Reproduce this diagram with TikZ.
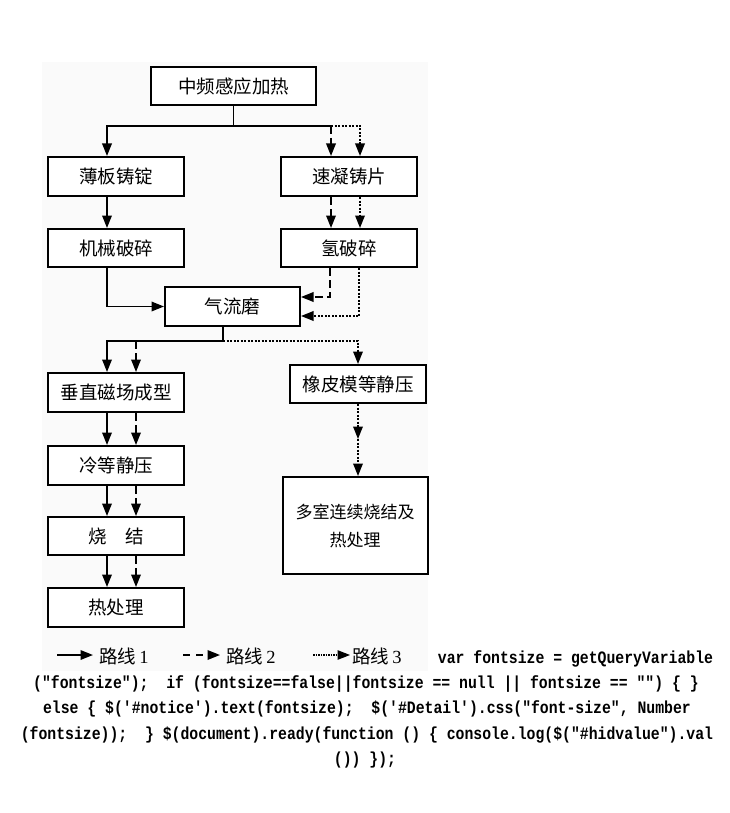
\documentclass[tikz,border=0pt]{standalone}
\usepackage{fontspec}
\setmainfont{Liberation Serif}
\newfontfamily\cjkf{Noto Sans CJK SC}
\newfontfamily\codefnt{Liberation Mono}[FakeStretch=0.85]
\usetikzlibrary{arrows.meta}
\begin{document}
\begin{tikzpicture}[x=1pt,y=-1pt,
  box/.style={draw,line width=2pt,fill=white,minimum width=136pt,minimum height=39pt,inner sep=0pt,
    font=\cjkf\fontsize{18.5}{22}\selectfont},
  conn/.style={line width=1.8pt},
  arr/.style={conn,-{Triangle[length=12.5pt,width=9.5pt]}},
  rone/.style={arr},
  rtwo/.style={arr,dash pattern=on 8pt off 4pt},
  rthree/.style={arr,dash pattern=on 2pt off 1.5pt},
  leg/.style={anchor=west,inner sep=0pt,font=\fontsize{18.5}{20}\selectfont},
  codeline/.style={inner sep=0pt,anchor=mid,font=\codefnt\bfseries\fontsize{17.4}{20}\selectfont}]
\useasboundingbox (0,0) rectangle (730,813);
\fill[gray!4] (42,62) rectangle (428,671);

% boxes
\node[box,minimum width=165pt,minimum height=38pt] (top) at (233.5,86) {中频感应加热};
\node[box] (bb) at (116,176.5) {薄板铸锭};
\node[box] (sn) at (349,176.5) {速凝铸片};
\node[box,minimum height=38pt] (jx) at (116,248) {机械破碎};
\node[box,minimum height=38pt] (qp) at (349,248) {氢破碎};
\node[box,minimum width=135pt] (ql) at (232.5,306.5) {气流磨};
\node[box] (cz) at (116,392.5) {垂直磁场成型};
\node[box] (ld) at (116,465.5) {冷等静压};
\node[box,minimum height=38pt] (sj) at (116,536) {烧\quad 结};
\node[box] (rc) at (116,607.5) {热处理};
\node[box,minimum height=38pt] (xp) at (358,384) {橡皮模等静压};
\node[box,minimum width=145pt,minimum height=97pt,align=center,
  font=\cjkf\fontsize{17}{28}\selectfont] (ds) at (355,525.5) {多室连续烧结及\\热处理};

% offsets
\coordinate (sn2) at ([xshift=-18pt]sn.north);
\coordinate (sn3) at ([xshift=11pt]sn.north);
\coordinate (cz2) at ([xshift=20pt]cz.north);

% top split
\draw[conn] (top.south) -- ++(0,20) coordinate (j1);
\draw[rone] (j1) -| ([xshift=-9pt]bb.north);
\draw[conn] (j1) -- (j1 -| sn2);
\draw[rtwo] (j1 -| sn2) -- (sn2);
\draw[rthree] (j1 -| sn2) -| (sn3);

% second row
\draw[rone] ([xshift=-9pt]bb.south) -- ([xshift=-9pt]jx.north);
\draw[rtwo] ([xshift=-18pt]sn.south) -- ([xshift=-18pt]qp.north);
\draw[rthree] ([xshift=11pt]sn.south) -- ([xshift=11pt]qp.north);

% into jet mill
\draw[rone] ([xshift=-9pt]jx.south) |- (ql.west);
\draw[rtwo] ([xshift=-19pt]qp.south) |- ([yshift=9.5pt]ql.east);
\draw[rthree] ([xshift=10pt]qp.south) |- ([yshift=-9.5pt]ql.east);

% jet mill split
\draw[conn] ([xshift=-9.5pt]ql.south) -- ++(0,14) coordinate (j2);
\draw[rone] (j2) -| ([xshift=-9pt]cz.north);
\draw[rtwo] (j2 -| cz2) -- (cz2);
\draw[rthree] (j2) -| (xp.north);

% left column
\draw[rone] ([xshift=-9pt]cz.south) -- ([xshift=-9pt]ld.north);
\draw[rtwo] ([xshift=20pt]cz.south) -- ([xshift=20pt]ld.north);
\draw[rone] ([xshift=-9pt]ld.south) -- ([xshift=-9pt]sj.north);
\draw[rtwo] ([xshift=20pt]ld.south) -- ([xshift=20pt]sj.north);
\draw[rone] ([xshift=-9pt]sj.south) -- ([xshift=-9pt]rc.north);
\draw[rtwo] ([xshift=20pt]sj.south) -- ([xshift=20pt]rc.north);

% right column
\draw[rthree] (xp.south) -- ++(0,35) coordinate (mid);
\draw[rthree] (mid) -- (xp.south |- ds.north);

% legend
\coordinate (la1) at (57,655); \coordinate (lb1) at (93,655);
\coordinate (la2) at (183,655); \coordinate (lb2) at (220,655);
\coordinate (la3) at (313,655); \coordinate (lb3) at (350,655);
\draw[rone] (la1) -- (lb1);
\draw[arr,dash pattern=on 7pt off 6pt] (la2) -- (lb2);
\draw[arr,line width=1.2pt,dash pattern=on 1.5pt off 1pt] (la3) -- (lb3);
\node[leg] (t1) at (99,656) {{\cjkf 路线}\,1};
\node[leg] (t2) at (226,656) {{\cjkf 路线}\,2};
\node[leg] (t3) at (352,656) {{\cjkf 路线}\,3};

% page text
\node[codeline] (c1) at (575.5,661) {var fontsize = getQueryVariable};
\node[codeline] (c2) at (366,686) {("fontsize");~ if (fontsize==false||fontsize == null || fontsize == "") \{ \}};
\node[codeline] (c3) at (367,711) {else \{ \$('\#notice').text(fontsize);~ \$('\#Detail').css("font-size", Number};
\node[codeline] (c4) at (367,737) {(fontsize));~ \} \$(document).ready(function () \{ console.log(\$("\#hidvalue").val};
\node[codeline] (c5) at (365,762) {()) \});~};
\end{tikzpicture}
\end{document}
